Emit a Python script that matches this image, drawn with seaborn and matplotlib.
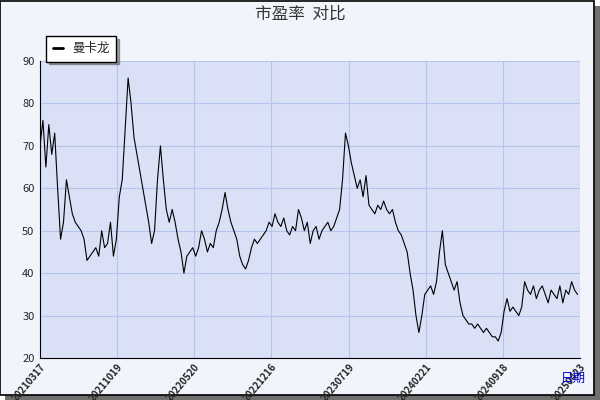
import matplotlib
matplotlib.use("Agg")
import matplotlib.pyplot as plt
import numpy as np
import seaborn as sns
from matplotlib.patches import Rectangle

tick_labels = ["20210317", "20211019", "20220520", "20221216",
               "20230719", "20240221", "20240918", "20250423"]
pe = [70, 76, 65, 75, 68, 73, 60, 48, 52, 62, 58, 54, 52, 51, 50, 48, 43, 44, 45, 46,
      44, 50, 46, 47, 52, 44, 48, 58, 62, 74, 86, 80, 72, 68, 64, 60, 56, 52, 47, 50,
      62, 70, 62, 55, 52, 55, 52, 48, 45, 40, 44, 45, 46, 44, 46, 50, 48, 45, 47, 46,
      50, 52, 55, 59, 55, 52, 50, 48, 44, 42, 41, 43, 46, 48, 47, 48, 49, 50, 52, 51,
      54, 52, 51, 53, 50, 49, 51, 50, 55, 53, 50, 52, 47, 50, 51, 48, 50, 51, 52, 50,
      51, 53, 55, 62, 73, 70, 66, 63, 60, 62, 58, 63, 56, 55, 54, 56, 55, 57, 55, 54,
      55, 52, 50, 49, 47, 45, 40, 36, 30, 26, 30, 35, 36, 37, 35, 38, 45, 50, 42, 40,
      38, 36, 38, 33, 30, 29, 28, 28, 27, 28, 27, 26, 27, 26, 25, 25, 24, 26, 31, 34,
      31, 32, 31, 30, 32, 38, 36, 35, 37, 34, 36, 37, 35, 33, 36, 35, 34, 37, 33, 36,
      35, 38, 36, 35]

sns.set_style("white")
plt.rcParams["font.family"] = ["Noto Sans CJK SC", "DejaVu Sans"]

fig = plt.figure(figsize=(6, 4), dpi=100, facecolor="white")
# frame with shadow
fig.patches.append(Rectangle((0.008, 0.0), 0.992, 0.985, transform=fig.transFigure,
                             facecolor="#707070", edgecolor="none", zorder=-2))
fig.patches.append(Rectangle((0.0, 0.012), 0.99, 0.986, transform=fig.transFigure,
                             facecolor="#F2F4FC", edgecolor="black", lw=1.2, zorder=-1))

ax = fig.add_axes([40 / 600, 42 / 400, 540 / 600, 297 / 400])
ax.set_facecolor("#DAE1F6")
x = np.linspace(0, 1, len(pe))
sns.lineplot(x=x, y=pe, ax=ax, color="black", lw=0.8, label="曼卡龙")

ticks = np.arange(len(tick_labels)) * (77.5 / 540)
ax.set_xlim(0, 1)
ax.set_ylim(20, 90)
ax.set_xticks(ticks)
ax.set_xticklabels(tick_labels, rotation=50, ha="right", rotation_mode="anchor",
                   fontsize=7, fontweight="bold")
ax.set_yticks(range(20, 91, 10))
ax.tick_params(axis="y", labelsize=8, length=0, pad=4)
ax.tick_params(axis="x", length=4, direction="in", pad=3)
ax.grid(True, color="#B4C4EA", lw=0.8)
for s in ["top", "right"]:
    ax.spines[s].set_visible(False)
ax.spines["left"].set_color("black")
ax.spines["bottom"].set_color("black")

leg = ax.legend(loc="upper left", bbox_to_anchor=(0.0, 1.105), frameon=True, fancybox=False,
                shadow=True, fontsize=9, handlelength=0.8, borderpad=0.5)
leg.get_frame().set_edgecolor("black")
for h in leg.get_lines():
    h.set_linewidth(2)

fig.text(0.5, 0.965, "市盈率  对比", ha="center", va="center", fontsize=12, color="#333333")
fig.text(0.955, 0.055, "日期", ha="center", va="center", fontsize=9, color="#0000CC")

fig.savefig("out.png", dpi=100)
